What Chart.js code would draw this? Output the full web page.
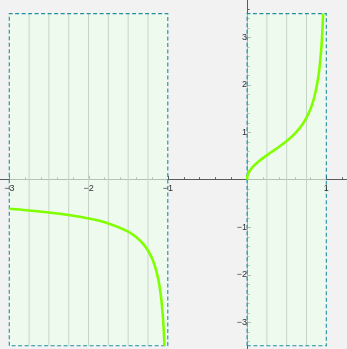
<!DOCTYPE html>
<html>
<head>
<meta charset="utf-8">
<script src="https://cdn.jsdelivr.net/npm/chart.js@4.4.1/dist/chart.umd.min.js"></script>
<style>
  html, body { margin: 0; padding: 0; background: #f2f2f2; overflow: hidden; }
  canvas { display: block; }
</style>
</head>
<body>
<canvas id="plot" width="347" height="349"></canvas>
<script>
// Right branch, 0 <= x < 1
const rightX = [0, 0.005, 0.02, 0.05, 0.1, 0.15, 0.2, 0.3, 0.4, 0.5, 0.6, 0.7, 0.75, 0.8, 0.85, 0.9, 0.92, 0.94, 0.95, 0.96];
const rightY = [0, 0.071, 0.141, 0.224, 0.318, 0.392, 0.456, 0.574, 0.690, 0.816, 0.968, 1.172, 1.309, 1.491, 1.750, 2.176, 2.447, 2.842, 3.122, 3.5];

// Left branch, -3 <= x < -1
const leftX = [-3, -2.75, -2.5, -2.25, -2, -1.75, -1.5, -1.4, -1.3, -1.25, -1.2, -1.15, -1.12, -1.1, -1.08, -1.06, -1.05, -1.0417];
const leftY = [-0.612, -0.647, -0.690, -0.744, -0.816, -0.921, -1.095, -1.208, -1.373, -1.491, -1.651, -1.888, -2.098, -2.289, -2.548, -2.929, -3.201, -3.5];

// Shaded domain intervals, their vertical extent and inner grid lines
const domainIntervals = [[-3, -1], [0, 1]];
const domainYRange = [-3.5, 3.5];
const domainGridX = [-2.75, -2.5, -2.25, -2, -1.75, -1.5, -1.25, 0.25, 0.5, 0.75];

// Labelled ticks and plot range
const xTickValues = [-3, -2, -1, 1];
const yTickValues = [-3, -2, -1, 1, 2, 3];
const xRange = [-3.117, 1.261];
const yRange = [-3.567, 3.788];

const curveColor = 'rgb(128,255,0)';
const axisColor = '#5c5c5c';
const labelColor = '#333333';
const labelFont = { family: 'Liberation Sans, Arial, sans-serif', size: 9 };

const toPoints = (xs, ys) => xs.map((x, i) => ({ x, y: ys[i] }));
const fmt = v => (v < 0 ? '\u2212' + Math.abs(v) : String(v));

const fillSets = domainIntervals.map(([a, b]) => ({
  data: [{ x: a, y: domainYRange[1] }, { x: b, y: domainYRange[1] }],
  fill: { value: domainYRange[0] },
  backgroundColor: 'rgba(238,255,238,0.62)',
  borderWidth: 0,
  pointRadius: 0,
  order: 5
}));

const gridData = [];
domainGridX.forEach(x => {
  gridData.push({ x, y: domainYRange[0] }, { x, y: domainYRange[1] }, { x, y: null });
});
const gridSet = {
  data: gridData,
  borderColor: '#c5d5c5',
  borderWidth: 1,
  pointRadius: 0,
  spanGaps: false,
  fill: false,
  order: 4
};

const outlineSets = domainIntervals.map(([a, b]) => ({
  data: [
    { x: a, y: domainYRange[0] }, { x: a, y: domainYRange[1] },
    { x: b, y: domainYRange[1] }, { x: b, y: domainYRange[0] },
    { x: a, y: domainYRange[0] }
  ],
  borderColor: 'rgba(20,138,158,0.95)',
  borderWidth: 1.1,
  borderDash: [4, 2.5],
  pointRadius: 0,
  fill: false,
  order: 3
}));

const curveSets = [toPoints(leftX, leftY), toPoints(rightX, rightY)].map(d => ({
  data: d,
  borderColor: curveColor,
  borderWidth: 2.6,
  pointRadius: 0,
  fill: false,
  cubicInterpolationMode: 'monotone',
  order: 1
}));

// Minor tick marks along both axes (every 0.2)
const minorTicks = {
  id: 'minorTicks',
  beforeDatasetsDraw(chart) {
    const { ctx, scales: { x, y } } = chart;
    const x0 = x.getPixelForValue(0);
    const y0 = y.getPixelForValue(0);
    ctx.save();
    ctx.strokeStyle = axisColor;
    ctx.lineWidth = 1;
    for (let k = Math.ceil(xRange[0] * 5); k <= Math.floor(xRange[1] * 5); k++) {
      if (k === 0) continue;
      const px = Math.round(x.getPixelForValue(k / 5)) + 0.5;
      const len = k % 5 === 0 ? 4 : 2.5;
      ctx.beginPath();
      ctx.moveTo(px, y0);
      ctx.lineTo(px, y0 - len);
      ctx.stroke();
    }
    for (let k = Math.ceil(yRange[0] * 5); k <= Math.floor(yRange[1] * 5); k++) {
      if (k === 0) continue;
      const py = Math.round(y.getPixelForValue(k / 5)) + 0.5;
      const len = k % 5 === 0 ? 4 : 2.5;
      ctx.beginPath();
      ctx.moveTo(x0, py);
      ctx.lineTo(x0 + len, py);
      ctx.stroke();
    }
    ctx.restore();
  }
};

const background = {
  id: 'background',
  beforeDraw(chart) {
    const { ctx, width, height } = chart;
    ctx.save();
    ctx.fillStyle = '#f2f2f2';
    ctx.fillRect(0, 0, width, height);
    ctx.restore();
  }
};

// Axes sit inside the plot, so they should not reserve any edge space
const noEdgePadding = s => {
  s.paddingTop = 0; s.paddingBottom = 0; s.paddingLeft = 0; s.paddingRight = 0;
};

new Chart(document.getElementById('plot'), {
  type: 'line',
  data: { datasets: [...fillSets, gridSet, ...outlineSets, ...curveSets] },
  options: {
    responsive: false,
    devicePixelRatio: 1,
    animation: false,
    events: [],
    layout: { padding: 0 },
    plugins: { legend: { display: false }, tooltip: { enabled: false } },
    elements: { line: { tension: 0 } },
    scales: {
      x: {
        type: 'linear',
        min: xRange[0],
        max: xRange[1],
        position: { y: 0 },
        afterBuildTicks: s => { s.ticks = xTickValues.map(v => ({ value: v })); },
        afterFit: noEdgePadding,
        grid: { drawOnChartArea: false, drawTicks: false },
        // axis line stays beneath the shaded domains, labels go on top
        border: { display: true, color: axisColor, width: 1, z: 0 },
        ticks: {
          z: 1,
          padding: 3,
          color: labelColor,
          font: labelFont,
          maxRotation: 0,
          autoSkip: false,
          callback: v => fmt(v)
        }
      },
      y: {
        type: 'linear',
        min: yRange[0],
        max: yRange[1],
        position: { x: 0 },
        afterBuildTicks: s => { s.ticks = yTickValues.map(v => ({ value: v })); },
        afterFit: noEdgePadding,
        grid: { drawOnChartArea: false, drawTicks: false },
        border: { display: true, color: axisColor, width: 1, z: 0 },
        ticks: {
          z: 1,
          padding: 3,
          color: labelColor,
          font: labelFont,
          autoSkip: false,
          callback: v => fmt(v)
        }
      }
    }
  },
  plugins: [background, minorTicks]
});
</script>
</body>
</html>
